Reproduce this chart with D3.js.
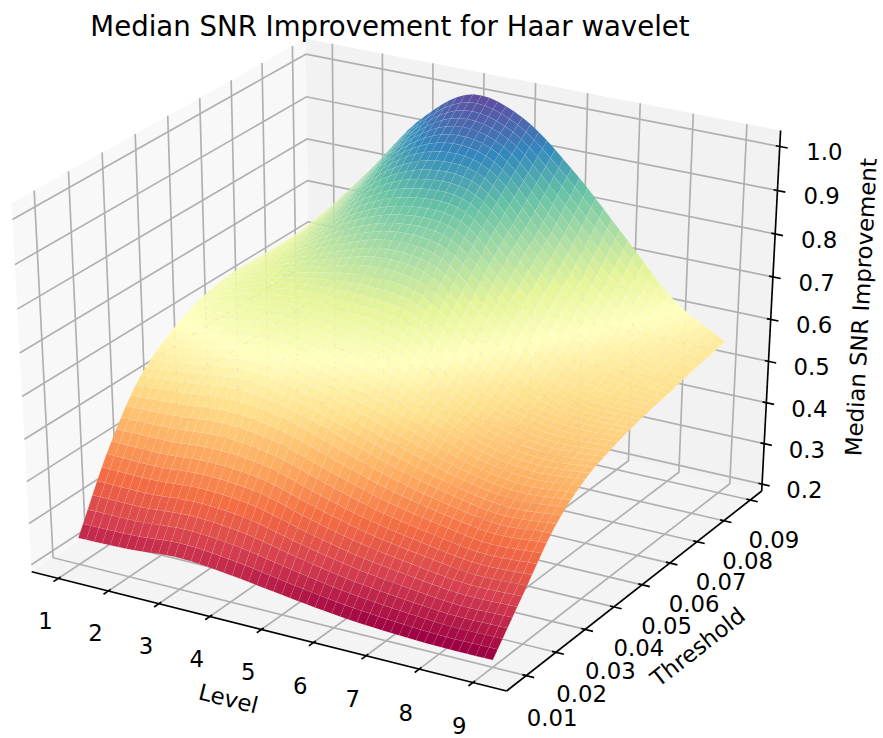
<!DOCTYPE html>
<html>
<head>
<meta charset="utf-8">
<script src="https://cdn.jsdelivr.net/npm/d3@7/dist/d3.min.js"></script>
<style>
  html, body { margin: 0; padding: 0; background: #fff; }
  text { font-family: "DejaVu Sans", sans-serif; fill: #000; }
</style>
</head>
<body>
<div id="chart"></div>
<script>
var levels = [1, 2, 3, 4, 5, 6, 7, 8, 9];
var thresholds = [0.01, 0.02, 0.03, 0.04, 0.05, 0.06, 0.07, 0.08, 0.09];
var snrTicks = [0.2, 0.3, 0.4, 0.5, 0.6, 0.7, 0.8, 0.9, 1.0];

// median SNR improvement, one row per threshold, one column per level
var snr001 = [0.247, 0.250, 0.259, 0.248, 0.231, 0.215, 0.205, 0.200, 0.200];
var snr002 = [0.407, 0.405, 0.412, 0.400, 0.365, 0.335, 0.315, 0.300, 0.303];
var snr003 = [0.525, 0.535, 0.545, 0.525, 0.485, 0.445, 0.415, 0.395, 0.404];
var snr004 = [0.588, 0.610, 0.625, 0.600, 0.565, 0.520, 0.475, 0.455, 0.464];
var snr005 = [0.625, 0.665, 0.680, 0.670, 0.650, 0.565, 0.510, 0.490, 0.494];
var snr006 = [0.640, 0.690, 0.730, 0.760, 0.740, 0.640, 0.550, 0.515, 0.513];
var snr007 = [0.640, 0.715, 0.800, 0.840, 0.830, 0.720, 0.600, 0.545, 0.526];
var snr008 = [0.640, 0.745, 0.870, 0.930, 0.910, 0.790, 0.665, 0.580, 0.540];
var snr009 = [0.647, 0.781, 0.923, 1.005, 0.975, 0.876, 0.750, 0.623, 0.550];
var snrRows = [snr001, snr002, snr003, snr004, snr005, snr006, snr007, snr008, snr009];

var width = 883, height = 738;
var cells = 50;
var pad = 1 / 48; // panes stick out of the limits by this much

var xScale = d3.scaleLinear().domain([0.648, 9.44]).range([0, 1]),
    yScale = d3.scaleLinear().domain([0.0053, 0.0926]).range([0, 1]),
    zScale = d3.scaleLinear().domain([0.2, 1.019]).range([0, 1]);

var screenX = d3.scaleLinear().domain([-0.07047, 0.06824]).range([31.7, 761.7]),
    screenY = d3.scaleLinear().domain([-0.08365, 0.05516]).range([691, 130.5]);

var spectral = d3.scaleLinear()
    .domain(d3.range(11).map(function(i) { return i / 10; }))
    .range(d3.schemeSpectral[11]);

// view from azim -60, elev 30, dist 10 of the unit cube
var U = [Math.sqrt(3) / 2, 0.5, 0],
    V = [-0.25, Math.sqrt(3) / 4, Math.sqrt(3) / 2],
    W = [Math.sqrt(3) / 4, -0.75, 0.5];

function project(xn, yn, zn) {
    var dx = xn - 0.5, dy = yn - 0.5, dz = zn - 0.5;
    var depth = W[0] * dx + W[1] * dy + W[2] * dz;
    var s = 10 - depth;
    return [
        screenX((U[0] * dx + U[1] * dy + U[2] * dz) / s),
        screenY((V[0] * dx + V[1] * dy + V[2] * dz) / s),
        depth
    ];
}

var lo = -pad, hi = 1 + pad;

var svg = d3.select('#chart').append('svg')
    .attr('width', width)
    .attr('height', height);

function pathOf(pts) {
    return 'M' + pts.map(function(p) { return p[0].toFixed(2) + ',' + p[1].toFixed(2); }).join('L');
}

// panes
var panes = [
    { fill: '#f8f8f8', pts: [[lo, lo, lo], [lo, hi, lo], [lo, hi, hi], [lo, lo, hi]] },
    { fill: '#f2f2f2', pts: [[lo, hi, lo], [hi, hi, lo], [hi, hi, hi], [lo, hi, hi]] },
    { fill: '#f4f4f4', pts: [[lo, lo, lo], [hi, lo, lo], [hi, hi, lo], [lo, hi, lo]] }
];
svg.append('g').selectAll('path')
    .data(panes)
    .enter()
    .append('path')
    .attr('fill', function(d) { return d.fill; })
    .attr('d', function(d) {
        return pathOf(d.pts.map(function(p) { return project(p[0], p[1], p[2]); })) + 'Z';
    });

// grid
var gridLines = [];
levels.forEach(function(l) {
    var x = xScale(l);
    gridLines.push([[x, lo, lo], [x, hi, lo], [x, hi, hi]]);
});
thresholds.forEach(function(t) {
    var y = yScale(t);
    gridLines.push([[hi, y, lo], [lo, y, lo], [lo, y, hi]]);
});
snrTicks.forEach(function(s) {
    var z = zScale(s);
    gridLines.push([[lo, lo, z], [lo, hi, z], [hi, hi, z]]);
});
svg.append('g').selectAll('path')
    .data(gridLines)
    .enter()
    .append('path')
    .attr('fill', 'none')
    .attr('stroke', '#b0b0b0')
    .attr('stroke-width', 1.67)
    .attr('d', function(d) {
        return pathOf(d.map(function(p) { return project(p[0], p[1], p[2]); }));
    });

// axis lines and ticks
var inward = 0.0083, outward = 0.0167;
var axisLines = [
    [[lo, lo, lo], [hi, lo, lo]],
    [[hi, lo, lo], [hi, hi, lo]],
    [[hi, hi, lo], [hi, hi, hi]]
];
levels.forEach(function(l) {
    var x = xScale(l);
    axisLines.push([[x, lo - outward, lo], [x, lo + inward, lo]]);
});
thresholds.forEach(function(t) {
    var y = yScale(t);
    axisLines.push([[hi + outward, y, lo], [hi - inward, y, lo]]);
});
snrTicks.forEach(function(s) {
    var z = zScale(s);
    axisLines.push([[hi + outward, hi, z], [hi - inward, hi, z]]);
});
svg.append('g').selectAll('path')
    .data(axisLines)
    .enter()
    .append('path')
    .attr('fill', 'none')
    .attr('stroke', '#000')
    .attr('stroke-width', 1.67)
    .attr('d', function(d) {
        return pathOf(d.map(function(p) { return project(p[0], p[1], p[2]); }));
    });

// the reference draws its surface on a finer mesh, so the table is resampled with a spline
function catmull(vals, t) {
    var n = vals.length,
        i = Math.min(Math.floor(t), n - 2),
        f = t - i,
        p1 = vals[i],
        p2 = vals[i + 1],
        p0 = i > 0 ? vals[i - 1] : 2 * p1 - p2,
        p3 = i < n - 2 ? vals[i + 2] : 2 * p2 - p1;
    return 0.5 * (2 * p1 + (p2 - p0) * f + (2 * p0 - 5 * p1 + 4 * p2 - p3) * f * f + (3 * p1 - p0 - 3 * p2 + p3) * f * f * f);
}

function snrAt(li, ti) {
    var col = snrRows.map(function(row) { return catmull(row, li); });
    return catmull(col, ti);
}

var stepL = (levels.length - 1) / cells,
    stepT = (thresholds.length - 1) / cells;

var nodes = d3.range(cells + 1).map(function(j) {
    return d3.range(cells + 1).map(function(i) {
        var li = i * stepL, ti = j * stepT;
        var level = levels[0] + li * (levels[1] - levels[0]),
            thr = thresholds[0] + ti * (thresholds[1] - thresholds[0]),
            val = snrAt(li, ti);
        return { val: val, p: project(xScale(level), yScale(thr), zScale(val)) };
    });
});

var faces = [];
for (var j = 0; j < cells; j++) {
    for (var i = 0; i < cells; i++) {
        var c = [nodes[j][i], nodes[j][i + 1], nodes[j + 1][i + 1], nodes[j + 1][i]];
        faces.push({
            pts: c.map(function(n) { return n.p; }),
            val: d3.mean(c, function(n) { return n.val; }),
            depth: d3.mean(c, function(n) { return n.p[2]; })
        });
    }
}
faces.sort(function(a, b) { return a.depth - b.depth; });

var valMin = d3.min(faces, function(f) { return f.val; }),
    valMax = d3.max(faces, function(f) { return f.val; });
var colorNorm = d3.scaleLinear().domain([valMin, valMax]).range([0, 1]);

// faint light stroke stands in for the seams between antialiased cells
svg.append('g').selectAll('path')
    .data(faces)
    .enter()
    .append('path')
    .attr('fill', function(d) { return spectral(colorNorm(d.val)); })
    .attr('stroke', '#fff')
    .attr('stroke-opacity', 0.12)
    .attr('stroke-width', 0.5)
    .attr('d', function(d) { return pathOf(d.pts) + 'Z'; });

// tick labels
var tickFont = 22.8;

function addLabel(txt, p, size, angle) {
    var t = svg.append('text')
        .attr('text-anchor', 'middle')
        .attr('dominant-baseline', 'central')
        .attr('font-size', size + 'px')
        .text(txt);
    if (angle) {
        t.attr('transform', 'translate(' + p[0] + ',' + p[1] + ') rotate(' + angle + ')');
    } else {
        t.attr('x', p[0]).attr('y', p[1]);
    }
}

levels.forEach(function(l) {
    addLabel(String(l), project(xScale(l), lo - 0.05, lo - 0.097), tickFont);
});
thresholds.forEach(function(t) {
    addLabel(t.toFixed(2), project(hi + 0.056, yScale(t), lo - 0.104), tickFont);
});
snrTicks.forEach(function(s) {
    addLabel(s.toFixed(1), project(hi + 0.086, hi + 0.015, zScale(s)), tickFont);
});

// axis titles follow the axis direction on screen
function angleOf(a, b) {
    var p = project(a[0], a[1], a[2]), q = project(b[0], b[1], b[2]);
    return Math.atan2(q[1] - p[1], q[0] - p[0]) * 180 / Math.PI;
}

addLabel('Level', project(0.5, lo - 0.13, lo - 0.125), tickFont,
    angleOf([lo, lo, lo], [hi, lo, lo]));
addLabel('Threshold', project(hi + 0.13, 0.5, lo - 0.135), tickFont,
    angleOf([hi, lo, lo], [hi, hi, lo]));
addLabel('Median SNR Improvement', project(hi + 0.125, hi + 0.1415, 0.49), tickFont,
    angleOf([hi, hi, lo], [hi, hi, hi]));

svg.append('text')
    .attr('x', 390)
    .attr('y', 36)
    .attr('text-anchor', 'middle')
    .attr('font-size', '27.6px')
    .text('Median SNR Improvement for Haar wavelet');
</script>
</body>
</html>
